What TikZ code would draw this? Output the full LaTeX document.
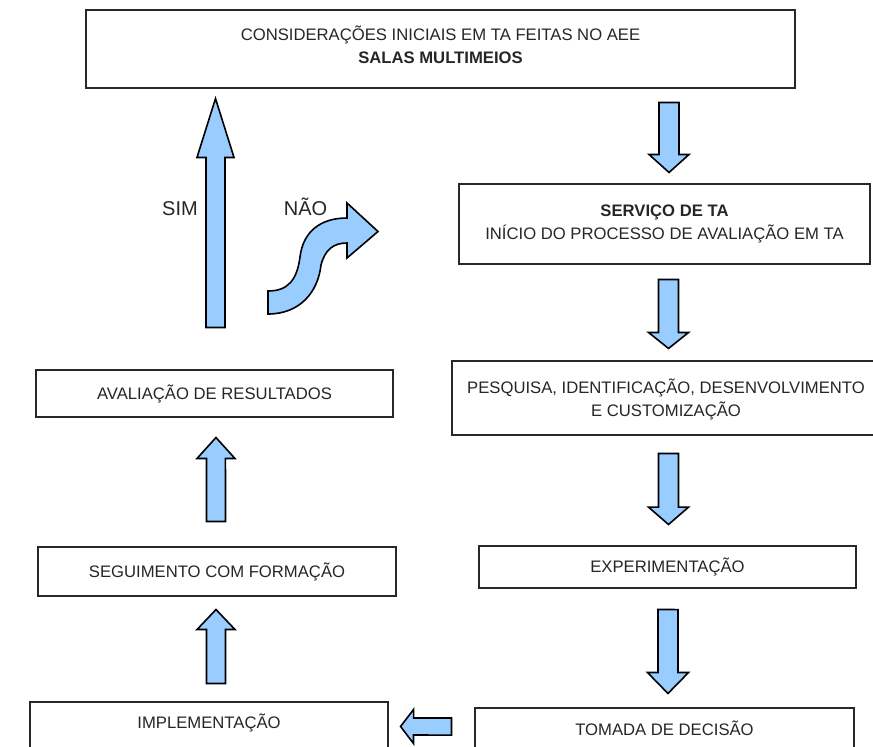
\documentclass[tikz,border=0pt]{standalone}
\usepackage{fontspec}
\setmainfont{Liberation Sans}
\usetikzlibrary{calc}
\definecolor{azulseta}{RGB}{153,204,255}
\definecolor{contorno}{RGB}{40,40,40}

\begin{document}
\begin{tikzpicture}[
      x=0.75pt, y=-0.75pt,
      caixa/.style={
        draw=contorno,
        line width=0.8pt,
        rectangle,
        align=center,
        inner sep=0pt,
        text=black!85,
        font=\fontsize{12.5pt}{17pt}\selectfont
      },
      seta/.style n args={3}{
        draw=black,
        line width=1.2pt,
        fill=azulseta,
        to path={
          let \p1=($(\tikztotarget)!#3!(\tikztostart)$) in
          ($(\tikztostart)!#1!90:(\tikztotarget)$) -- ($(\p1)!#1!90:(\tikztotarget)$)
          -- ($(\p1)!#2!90:(\tikztotarget)$) -- (\tikztotarget)
          -- ($(\p1)!#2!-90:(\tikztotarget)$) -- ($(\p1)!#1!-90:(\tikztotarget)$)
          -- ($(\tikztostart)!#1!-90:(\tikztotarget)$) -- cycle
        }
      },
      curva/.style={
        draw=black,
        line width=1.2pt,
        fill=azulseta
      },
      rotulo/.style={
        anchor=base,
        text=black!85,
        font=\fontsize{15pt}{18pt}\selectfont
      }
    ]
    \useasboundingbox (0,0) rectangle (873,746);

    \node[caixa, minimum width=531.75pt, minimum height=58.5pt, text depth=6pt] (cons) at (440.5,49)
      {CONSIDERAÇÕES INICIAIS EM TA FEITAS NO AEE\\\textbf{SALAS MULTIMEIOS}} ;
    \node[caixa, minimum width=308.25pt, minimum height=60pt] (serv) at (664.5,224)
      {\textbf{SERVIÇO DE TA}\\INÍCIO DO PROCESSO DE AVALIAÇÃO EM TA} ;
    \node[caixa, minimum width=321pt, minimum height=55.5pt, text height=30pt] (pesq) at (666,398)
      {PESQUISA, IDENTIFICAÇÃO, DESENVOLVIMENTO\\E CUSTOMIZAÇÃO} ;
    \node[caixa, minimum width=282.75pt, minimum height=31.5pt] (expe) at (667.5,567) {EXPERIMENTAÇÃO} ;
    \node[caixa, minimum width=284.25pt, minimum height=39pt,
      text height=9pt, text depth=6.75pt] (toma) at (664.5,734) {TOMADA DE DECISÃO} ;
    \node[caixa, minimum width=268.5pt, minimum height=43.5pt,
      text height=9pt, text depth=13.5pt] (impl) at (209,731) {IMPLEMENTAÇÃO} ;
    \node[caixa, minimum width=268.5pt, minimum height=36.75pt] (segu) at (217,571.5) {SEGUIMENTO COM FORMAÇÃO} ;
    \node[caixa, minimum width=267.75pt, minimum height=35.25pt] (aval) at (214.5,393.5) {AVALIAÇÃO DE RESULTADOS} ;

    \node[coordinate,xshift=171.4pt,yshift=-10.5pt] (s1i) at (cons.south) {};
    \node[coordinate,xshift=3.4pt,yshift=8.25pt] (s1f) at (serv.north) {};
    \node[coordinate,xshift=3pt,yshift=-11.25pt] (s2i) at (serv.south) {};
    \node[coordinate,xshift=1.9pt,yshift=9pt] (s2f) at (pesq.north) {};
    \node[coordinate,xshift=1.9pt,yshift=-13.5pt] (s3i) at (pesq.south) {};
    \node[coordinate,xshift=0.75pt,yshift=15.75pt] (s3f) at (expe.north) {};
    \node[coordinate,xshift=0.4pt,yshift=-15.75pt] (s4i) at (expe.south) {};
    \node[coordinate,xshift=2.6pt,yshift=10.5pt] (s4f) at (toma.north) {};
    \node[coordinate,xshift=-17.25pt,yshift=5.6pt] (s5i) at (toma.west) {};
    \node[coordinate,xshift=9pt,yshift=3.4pt] (s5f) at (impl.east) {};
    \node[coordinate,xshift=5.25pt,yshift=13.5pt] (s6i) at (impl.north) {};
    \node[coordinate,xshift=-0.75pt,yshift=-9.75pt] (s6f) at (segu.south) {};
    \node[coordinate,xshift=-0.75pt,yshift=18.75pt] (s7i) at (segu.north) {};
    \node[coordinate,xshift=1.1pt,yshift=-15pt] (s7f) at (aval.south) {};
    \node[coordinate,xshift=0.75pt,yshift=31.5pt] (simi) at (aval.north) {};
    \node[coordinate,xshift=-168.75pt,yshift=-7.5pt] (simf) at (cons.south) {};

    \draw[seta={7.5pt}{15pt}{13.5pt}] (s1i) to (s1f);
    \draw[seta={7.5pt}{15pt}{12pt}] (s2i) to (s2f);
    \draw[seta={7.5pt}{15pt}{13pt}] (s3i) to (s3f);
    \draw[seta={7.5pt}{15.4pt}{15.75pt}] (s4i) to (s4f);
    \draw[seta={6.4pt}{12.75pt}{9.75pt}] (s5i) to (s5f);
    \draw[seta={7.1pt}{14.25pt}{15pt}] (s6i) to (s6f);
    \draw[seta={7.1pt}{14.25pt}{15.75pt}] (s7i) to (s7f);
    \draw[seta={7.1pt}{13.9pt}{44.25pt}] (simi) to (simf);

    \draw[curva] (268,291) .. controls (288,291) and (297,280) .. (300,257)
      .. controls (303,232) and (320,218) .. (347,218) -- (347,203) -- (378,231.5)
      -- (347,258) -- (347,243) .. controls (333,243) and (325,250) .. (321,265)
      .. controls (318,292) and (300,314) .. (268,314) -- cycle;

    \node[rotulo] (sim) at (180,215) {SIM};
    \node[rotulo] (nao) at (305.5,215) {NÃO};

  \end{tikzpicture}
\end{document}
